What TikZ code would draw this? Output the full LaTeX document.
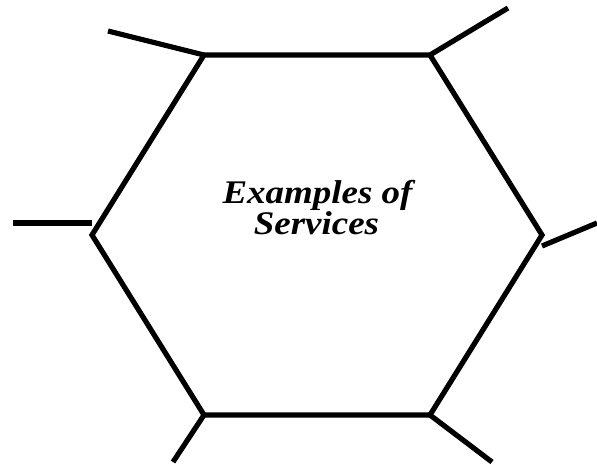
\documentclass[tikz,border=0pt]{standalone}
\usepackage{fontspec}
\setmainfont{Liberation Serif}
\begin{document}
\begin{tikzpicture}[x=1pt,y=-1pt,
  edge/.style={line width=5.2pt,line join=miter,black},
  spoke/.style={line width=5.2pt,black},
  title/.style={font=\bfseries\itshape\fontsize{33}{33}\selectfont,inner sep=0pt,anchor=base}]
\useasboundingbox (0,0) rectangle (597,465);
\coordinate (tl) at (204,55);
\coordinate (tr) at (430,55);
\coordinate (r) at (542,235);
\coordinate (br) at (430,415);
\coordinate (bl) at (204,415);
\coordinate (l) at (92,235);
\coordinate (etl) at (108,31);
\coordinate (etr) at (508,8);
\coordinate (erA) at (542,246);
\coordinate (er) at (597,223);
\coordinate (elA) at (92,223);
\coordinate (el) at (13,223);
\coordinate (ebl) at (173,462);
\coordinate (ebr) at (492,462);
\draw[edge] (tl) -- (tr) -- (r) -- (br) -- (bl) -- (l) -- cycle;
\draw[spoke] (tl) -- (etl);
\draw[spoke] (tr) -- (etr);
\draw[spoke] (erA) -- (er);
\draw[spoke] (elA) -- (el);
\draw[spoke] (bl) -- (ebl);
\draw[spoke] (br) -- (ebr);
\node[title] (t1) at (317.5,204) {\scalebox{1.12}[1]{Examples of}};
\node[title] (t2) at (316.5,234) {\scalebox{1.12}[1]{Services}};
\end{tikzpicture}
\end{document}
